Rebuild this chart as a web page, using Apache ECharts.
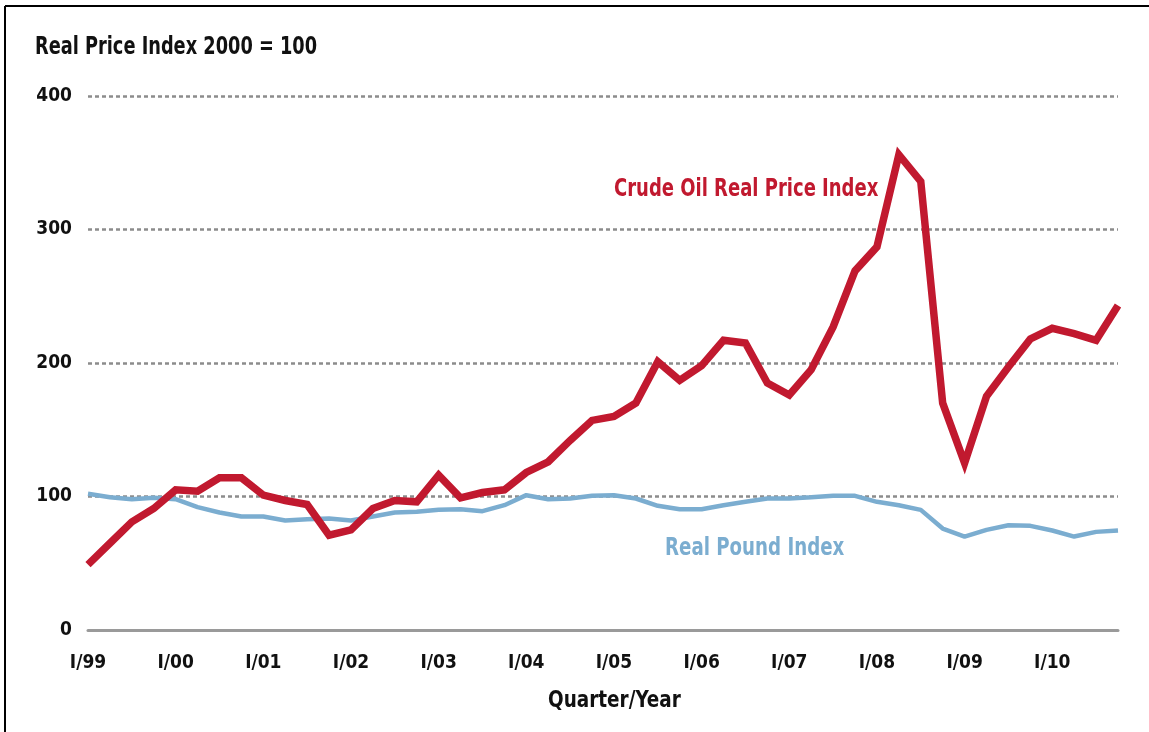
<!DOCTYPE html>
<html>
<head>
<meta charset="utf-8">
<script src="https://cdn.jsdelivr.net/npm/echarts@6/dist/echarts.min.js"></script>
<style>
html,body{margin:0;padding:0;background:#fff;}
#chart{width:1149px;height:732px;}
</style>
</head>
<body>
<div id="chart"></div>
<script>
var years = ['99','00','01','02','03','04','05','06','07','08','09','10'];
var quarterNames = ['I','II','III','IV'];
var categories = [];
years.forEach(function(y){ quarterNames.forEach(function(q){ categories.push(q + '/' + y); }); });

var crudeOil = [49,65,81,91,105,104,114,114,101,97,94,71,
                75,91,97,96,116,99,103,105,118,126,142,157,
                160,170,201,187,198,217,215,185,176,195,227,269,
                287,356,336,170,125,175,197,218,226,222,217,243];
var realPound = [102,99.5,98,99,98,92,88,85,85,82,83,83.5,
                 82,85,88,88.5,90,90.5,89,93.5,101,98,98.5,100.5,
                 101,98.5,93,90.5,90.5,93.5,96,98.5,98.5,99.5,100.5,100.5,
                 96,93.5,90,76,70,75,78.5,78,74.5,70,73.5,74.5];
var yTicks = [0,100,200,300,400];

var FONT = '"DejaVu Sans Condensed","Liberation Sans Narrow",sans-serif';
var chart = echarts.init(document.getElementById('chart'));
chart.setOption({
  animation: false,
  backgroundColor: '#fff',
  grid: {left: 88, right: 31, top: 96, bottom: 102},
  xAxis: {
    type: 'category', data: categories, boundaryGap: false,
    axisLine: {lineStyle: {color: '#9a9a9a', width: 3}},
    axisTick: {show: false},
    axisLabel: {
      interval: function(i){ return i % 4 === 0; }, margin: 24,
      fontFamily: FONT, fontWeight: 'bold', fontSize: 19, color: '#111'
    },
    splitLine: {show: false}
  },
  yAxis: {
    type: 'value', min: yTicks[0], max: yTicks[yTicks.length-1], interval: 100,
    axisLine: {show: false}, axisTick: {show: false},
    axisLabel: {margin: 16, fontFamily: FONT, fontWeight: 'bold', fontSize: 19, color: '#111'},
    splitLine: {lineStyle: {color: '#8c8c8c', width: 2.5, type: [4, 3]}}
  },
  series: [
    {
      name: 'Real Pound Index', type: 'line', data: realPound, symbol: 'none', z: 3,
      lineStyle: {color: '#7badd0', width: 4.5}
    },
    {
      name: 'Crude Oil Real Price Index', type: 'line', data: crudeOil, symbol: 'none', z: 4,
      lineStyle: {color: '#c1192f', width: 7.5, join: 'miter'}
    }
  ],
  graphic: [
    {type: 'line', shape: {x1: 5, y1: 6, x2: 1149, y2: 6}, style: {stroke: '#000', lineWidth: 2}},
    {type: 'line', shape: {x1: 5, y1: 6, x2: 5, y2: 732}, style: {stroke: '#000', lineWidth: 2}},
    {type: 'text', x: 35, y: 47, scaleX: 0.79, originX: 0, originY: 0,
      style: {text: 'Real Price Index 2000 = 100', fill: '#111', font: 'bold 25px ' + FONT, verticalAlign: 'middle'}},
    {type: 'text', x: 614, y: 189, scaleX: 0.8, originX: 0, originY: 0,
      style: {text: 'Crude Oil Real Price Index', fill: '#c1192f', font: 'bold 25px ' + FONT, verticalAlign: 'middle'}},
    {type: 'text', x: 665, y: 548, scaleX: 0.81, originX: 0, originY: 0,
      style: {text: 'Real Pound Index', fill: '#7badd0', font: 'bold 25px ' + FONT, verticalAlign: 'middle'}},
    {type: 'text', x: 548, y: 701, scaleX: 0.89, originX: 0, originY: 0,
      style: {text: 'Quarter/Year', fill: '#111', font: 'bold 23px ' + FONT, verticalAlign: 'middle'}}
  ]
});
</script>
</body>
</html>
